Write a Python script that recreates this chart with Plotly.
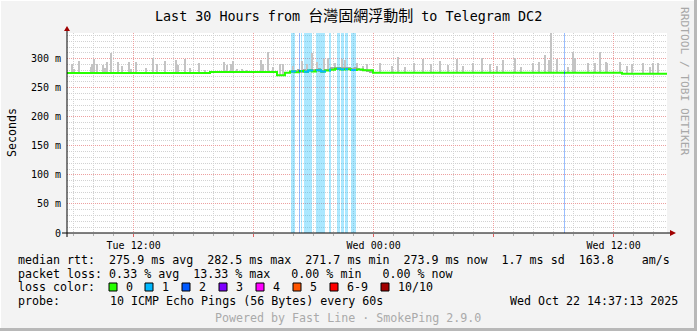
import numpy as np
import pandas as pd
import plotly.graph_objects as go

START = pd.Timestamp("2025-10-21 08:40")
END = pd.Timestamp("2025-10-22 14:40")
Y_TOP = 344.2
MS_PER_HOUR = 3600000.0

# ---------------- data ----------------
# median rtt (ms) as steps: hours since graph start
median_hours = [0.0, 7.15, 10.5, 10.9, 11.15, 11.4, 11.6, 11.85, 12.05, 12.25, 12.45, 12.7,
                12.9, 13.15, 13.4, 13.65, 13.9, 14.2, 14.5, 14.8, 15.3, 27.75, 30.0]
median_rtt_ms = [275.5, 277.2, 271.7, 276.0, 278.0, 276.5, 279.0, 277.5, 279.5, 278.0, 280.0, 277.8,
                 279.5, 281.0, 282.5, 281.5, 282.0, 280.5, 281.5, 280.0, 276.0, 273.9, 273.9]

# packet loss periods (hours since start) and lost pings out of 10
loss_start_hours = [11.2, 11.6, 11.7, 11.85, 12.45, 13.1, 13.5, 13.7, 13.9, 14.2, 24.85]
loss_end_hours = [11.4, 11.65, 11.75, 12.25, 12.9, 13.2, 13.65, 13.85, 14.05, 14.45, 24.9]
loss_pings = [1, 2, 1, 1, 1, 1, 1, 1, 1, 1, 2]

# smoke: max ping spikes (hours since start, top value in ms)
spike_hours = [0.27, 0.35, 0.6, 1.2, 1.27, 1.37, 1.48, 1.82, 1.9, 2.02, 2.22, 2.57, 2.77, 3.1, 3.2,
               3.45, 3.95, 4.32, 4.52, 4.92, 5.45, 5.57, 5.9, 6.15, 6.62, 6.9, 7.85, 8.02, 8.22,
               8.32, 8.48, 8.73, 9.0, 9.7, 9.82, 10.07, 10.28, 10.65, 10.82,
               11.3, 11.73, 12.0, 12.23, 12.5, 12.87, 13.07, 13.4, 13.73, 13.9, 14.5, 14.8, 15.0,
               15.65, 16.25, 16.55, 16.9, 17.35, 17.8, 18.2, 18.65, 19.05, 19.5, 19.8, 20.3,
               20.75, 21.15, 21.5, 21.8, 22.4, 22.7, 23.3, 23.6, 23.9, 24.12, 24.2, 24.5, 25.05,
               25.3, 25.4, 26.07, 26.4, 26.65, 26.95, 27.0, 27.65, 27.98, 28.25, 28.8, 29.15,
               29.3, 29.55]
spike_top_ms = [291, 283, 296, 285, 290, 299, 291, 289, 284, 294, 310, 294.5, 287, 295, 282,
                294, 283.5, 302, 290, 296, 298, 289, 299.5, 283.5, 292, 281, 295, 289, 291,
                296, 282, 282, 281, 298, 291, 311, 285, 291, 291,
                287, 296.5, 290, 309, 295, 300, 300.6, 292, 300, 298, 292, 288, 291,
                292, 288, 303, 285, 292, 300, 290, 296, 289, 299, 287, 293,
                301, 290, 288, 298, 300.6, 286, 292, 295, 306, 298, 344, 299, 286,
                312, 302, 292, 292, 311, 295, 293, 295, 287.5, 290, 292, 286,
                292, 292.6]

# dense smoke during the lossy period (hours, low ms, high ms)
smoke_hours = [11.2, 11.35, 11.5, 11.65, 11.8, 11.95, 12.1, 12.25, 12.4, 12.55, 12.7, 12.85,
               13.0, 13.15, 13.3, 13.45, 13.6, 13.75, 13.9, 14.05, 14.2, 14.35, 14.5, 14.65,
               14.8, 14.95, 15.1]
smoke_lo_ms = [276, 275, 277, 276, 277, 276, 278, 277, 278, 277, 276, 278,
               278, 280, 281, 281, 280, 281, 281, 280, 280, 281, 280, 280,
               279, 278, 276]
smoke_hi_ms = [281, 280, 282, 281, 283, 281, 282, 283, 282, 284, 281, 283,
               283, 285, 286, 285, 286, 285, 286, 285, 284, 285, 284, 283,
               282, 281, 280]

loss_labels = ["0", "1", "2", "3", "4", "5", "6-9", "10/10"]
loss_colors = ["#26ff00", "#00b8ff", "#0059ff", "#7e00ff", "#ff00ff", "#ff5500", "#ff0000", "#a10000"]
loss_bg_colors = {1: "rgba(0,184,255,0.33)", 2: "rgba(0,89,255,0.40)"}

x_tick_times = ["2025-10-21 12:00", "2025-10-21 18:00", "2025-10-22 00:00",
                "2025-10-22 06:00", "2025-10-22 12:00"]
x_tick_labels = ["Tue 12:00", "", "Wed 00:00", "", "Wed 12:00"]
y_tick_values = [0, 50, 100, 150, 200, 250, 300]
y_tick_labels = ["0", "50 m", "100 m", "150 m", "200 m", "250 m", "300 m"]

title_text = "Last 30 Hours from 台灣固網浮動制 to Telegram DC2"
stats_lines = [
    "median rtt:  275.9 ms avg  282.5 ms max  271.7 ms min  273.9 ms now  1.7 ms sd  163.8    am/s",
    "packet loss: 0.33 % avg  13.33 % max   0.00 % min   0.00 % now",
]
probe_text = "10 ICMP Echo Pings (56 Bytes) every 60s"
date_text = "Wed Oct 22 14:37:13 2025"
footer_text = "Powered by Fast Line · SmokePing 2.9.0"
side_text = "RRDTOOL / TOBI OETIKER"

# ---------------- helpers ----------------
L, R, T, B = 67, 30, 33, 98
W, H = 697, 331
PW, PH = W - L - R, H - T - B


def px(x):
    return (x - L) / PW


def py(y):
    return (H - B - y) / PH


def to_time(h):
    return START + pd.to_timedelta(np.asarray(h, dtype=float), unit="h")


mh = np.asarray(median_hours)
mv = np.asarray(median_rtt_ms)


def median_at(h):
    idx = np.searchsorted(mh, np.asarray(h, dtype=float), side="right") - 1
    return mv[np.clip(idx, 0, len(mv) - 1)]


def nb(s):
    return s.replace(" ", "\u00a0")


MONO = "DejaVu Sans Mono"
fig = go.Figure()

# loss background bars
ls = np.asarray(loss_start_hours)
le = np.asarray(loss_end_hours)
lp = np.asarray(loss_pings)
for lvl, col in loss_bg_colors.items():
    sel = lp == lvl
    fig.add_trace(go.Bar(
        x=to_time((ls[sel] + le[sel]) / 2), y=[Y_TOP] * int(sel.sum()), base=0,
        width=list((le[sel] - ls[sel]) * MS_PER_HOUR),
        marker=dict(color=col, line=dict(width=0)), hoverinfo="skip"))

# smoke spikes
sh = np.asarray(spike_hours)
st = np.asarray(spike_top_ms)
sb = median_at(sh)
fig.add_trace(go.Bar(
    x=to_time(sh), y=st - sb, base=sb, width=[MS_PER_HOUR / 20] * len(sh),
    marker=dict(color="#c4c4c4", line=dict(width=0)), hoverinfo="skip"))

# dense smoke in lossy period
smh = np.asarray(smoke_hours)
slo = np.asarray(smoke_lo_ms)
shi = np.asarray(smoke_hi_ms)
fig.add_trace(go.Bar(
    x=to_time(smh + 0.075), y=shi - slo, base=slo, width=[0.15 * MS_PER_HOUR] * len(smh),
    marker=dict(color="#a8a8a8", line=dict(width=0)), hoverinfo="skip"))

# median line (no loss colour)
fig.add_trace(go.Scatter(
    x=to_time(mh), y=mv, mode="lines", line=dict(color=loss_colors[0], width=2, shape="hv"),
    hoverinfo="skip"))

# median line coloured by loss
for s, e, n in zip(loss_start_hours, loss_end_hours, loss_pings):
    pts = [s] + [m for m in median_hours if s < m < e] + [e]
    fig.add_trace(go.Scatter(
        x=to_time(pts), y=median_at(pts), mode="lines",
        line=dict(color=loss_colors[n], width=2, shape="hv"), hoverinfo="skip"))

MAJOR = "#eda0a0"
MINOR = "#d2d2d2"
fig.update_layout(
    width=W, height=H, margin=dict(l=L, r=R, t=T, b=B, pad=0),
    paper_bgcolor="#f3f3f3", plot_bgcolor="#ffffff", showlegend=False,
    barmode="overlay", bargap=0, bargroupgap=0,
    font=dict(family=MONO, size=10, color="#000000"),
    xaxis=dict(
        type="date", range=[START, END], tickvals=x_tick_times, ticktext=x_tick_labels,
        showgrid=True, gridcolor=MAJOR, griddash="1px,1px", gridwidth=1,
        ticks="outside", ticklen=3, tickcolor="#e06060", tickfont=dict(family=MONO, size=10),
        showline=False, zeroline=False, fixedrange=True,
        minor=dict(dtick=MS_PER_HOUR, showgrid=True, gridcolor=MINOR, griddash="1px,1px",
                   ticks="outside", ticklen=2, tickcolor="#b0b0b0"),
    ),
    yaxis=dict(
        range=[0, Y_TOP], tickvals=y_tick_values, ticktext=y_tick_labels,
        showgrid=True, gridcolor=MAJOR, griddash="1px,1px", gridwidth=1,
        ticks="outside", ticklen=3, tickcolor="rgba(0,0,0,0)", tickfont=dict(family=MONO, size=10),
        showline=False, zeroline=False, fixedrange=True,
        minor=dict(dtick=10, tick0=0, showgrid=True, gridcolor=MINOR, griddash="1px,1px"),
    ),
)

shapes = []
# axes lines
shapes.append(dict(type="line", xref="paper", yref="paper", x0=px(62), x1=px(670), y0=py(233), y1=py(233),
                   line=dict(color="#000000", width=1)))
shapes.append(dict(type="line", xref="paper", yref="paper", x0=px(67), x1=px(67), y0=py(237), y1=py(30),
                   line=dict(color="#000000", width=1)))
# arrows
shapes.append(dict(type="path", xref="paper", yref="paper", fillcolor="#a00000", line=dict(width=0),
                   path=f"M {px(670)},{py(230)} L {px(676)},{py(233)} L {px(670)},{py(236)} Z"))
shapes.append(dict(type="path", xref="paper", yref="paper", fillcolor="#a00000", line=dict(width=0),
                   path=f"M {px(64)},{py(31)} L {px(67)},{py(26)} L {px(70)},{py(31)} Z"))
# frame
shapes.append(dict(type="rect", xref="paper", yref="paper", x0=px(694), x1=px(697), y0=py(0), y1=py(331),
                   fillcolor="#b8b8b8", line=dict(width=0)))
shapes.append(dict(type="rect", xref="paper", yref="paper", x0=px(0), x1=px(697), y0=py(328), y1=py(331),
                   fillcolor="#b8b8b8", line=dict(width=0)))
shapes.append(dict(type="rect", xref="paper", yref="paper", x0=px(0), x1=px(694), y0=py(0), y1=py(1),
                   fillcolor="#ffffff", line=dict(width=0)))
shapes.append(dict(type="rect", xref="paper", yref="paper", x0=px(0), x1=px(1), y0=py(0), y1=py(328),
                   fillcolor="#ffffff", line=dict(width=0)))

annotations = []


def ann(text, x, y, xanchor="left", size=11.65, color="#000000", angle=0, yanchor="middle"):
    annotations.append(dict(text=text, x=px(x), y=py(y), xref="paper", yref="paper",
                            xanchor=xanchor, yanchor=yanchor, showarrow=False, textangle=angle,
                            font=dict(family=MONO, size=size, color=color)))


# title with CJK part
t0, t1 = title_text.split("台")[0], title_text.split("制")[1]
cjk = title_text[len(t0):len(title_text) - len(t1)]
title_html = (nb(t0) + "<span style='font-family:\"Noto Sans CJK TC\";font-size:15px'>" + cjk + "</span>"
              + nb(t1))
ann(title_html, 348, 15, xanchor="center", size=13.4)
ann("Seconds", 12, 133, xanchor="center", size=11.6, angle=-90)
ann(nb(stats_lines[0]), 16, 260)
ann(nb(stats_lines[1]), 16, 273.5)
ann(nb("loss color:"), 16, 287)
ann(nb("probe:"), 16, 301)
ann(nb(probe_text), 107.5, 301)
ann(nb(date_text), 680, 301, xanchor="right")
ann(nb(footer_text), 348, 318, xanchor="center", color="#aaaaaa")
ann(nb(side_text), 685, 81, xanchor="center", size=11.2, color="#a8a8a8", angle=90)

box_left = [109, 145, 182, 219, 256, 293, 330, 381]
for lab, col, bx in zip(loss_labels, loss_colors, box_left):
    shapes.append(dict(type="rect", xref="paper", yref="paper", x0=px(bx), x1=px(bx + 8),
                       y0=py(283), y1=py(291), fillcolor=col, line=dict(color="#000000", width=1)))
    ann(nb(lab), bx + 14.5, 287)

fig.update_layout(shapes=shapes, annotations=annotations)
fig.write_html("out.html")
